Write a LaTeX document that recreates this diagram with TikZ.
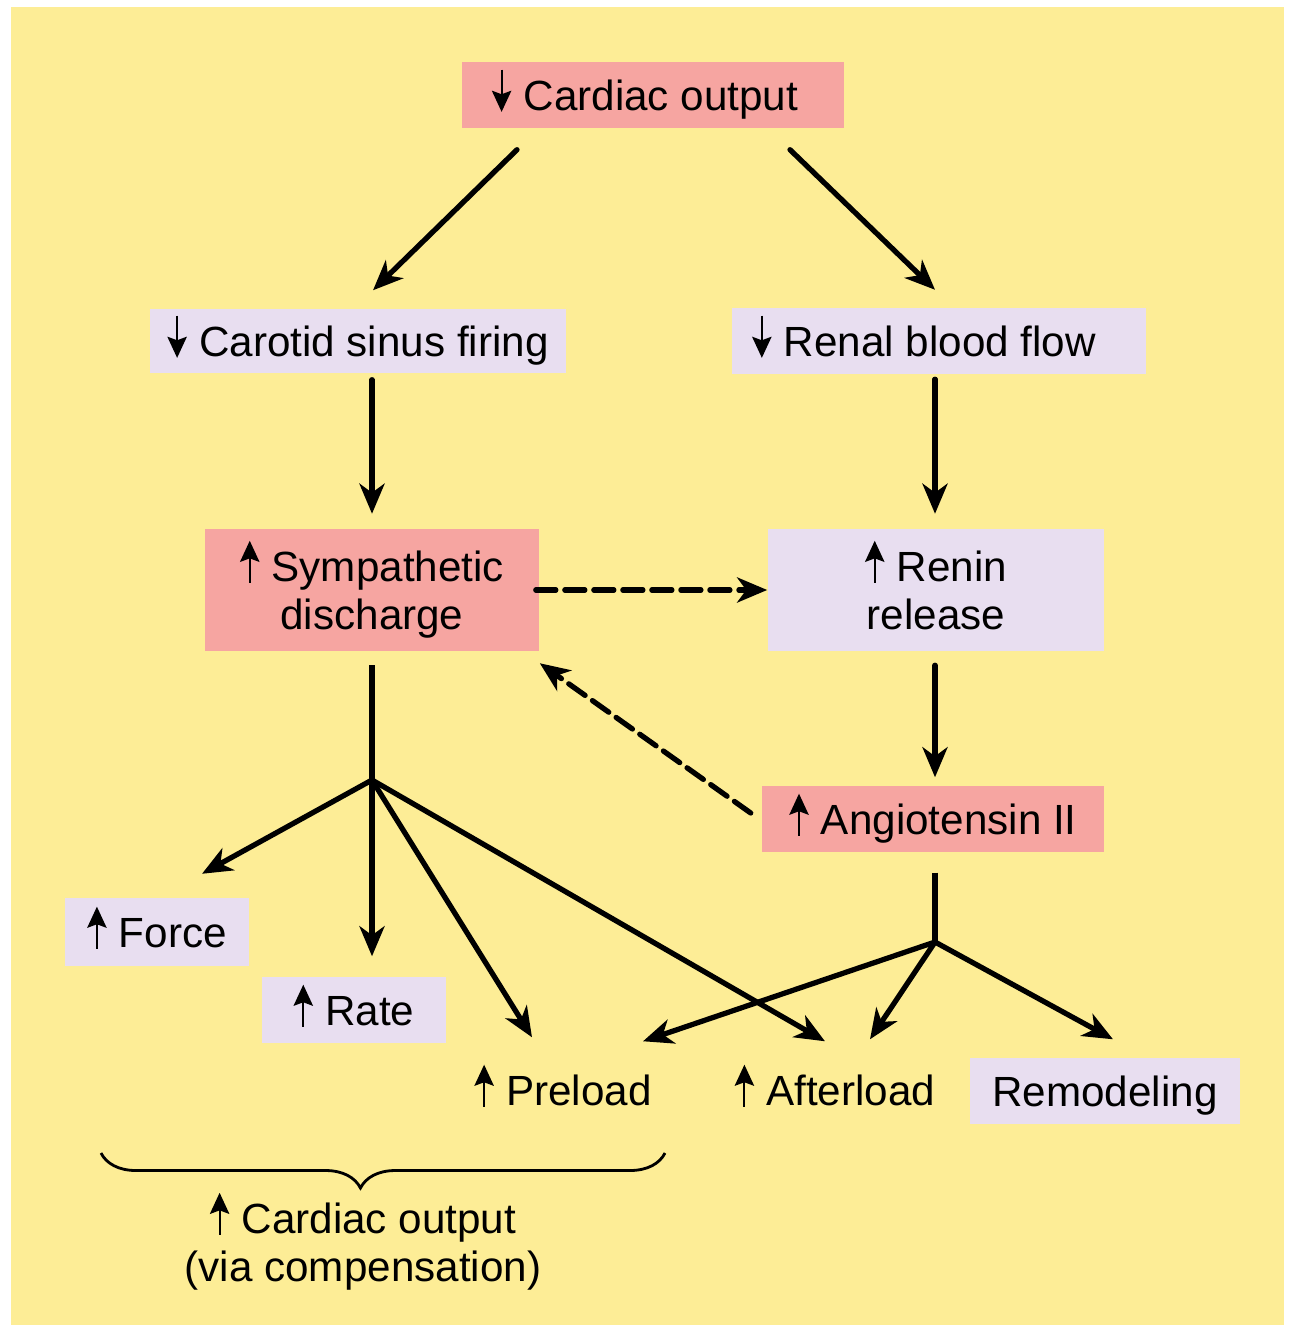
\documentclass[tikz,border=0pt]{standalone}
\usepackage{fontspec}
\setmainfont{Liberation Sans}
\usetikzlibrary{arrows.meta,decorations.pathreplacing}

\definecolor{bgyellow}{RGB}{253,237,150}
\definecolor{boxpink}{RGB}{246,165,161}
\definecolor{boxlilac}{RGB}{232,222,240}

% small up / down arrows in front of the labels
\newcommand{\ua}{\tikz[baseline=0pt]\draw[line width=0.6pt,-{Stealth[length=6pt,width=5.5pt,inset=1pt]}] (0pt,-0.5pt) -- (0pt,11.5pt);\hspace{3.5pt}}
\newcommand{\da}{\tikz[baseline=0pt]\draw[line width=0.6pt,-{Stealth[length=6pt,width=5.5pt,inset=1pt]}] (0pt,11.5pt) -- (0pt,-0.5pt);\hspace{3.5pt}}

\tikzset{
  box/.style={inner sep=0pt, align=center, text height=8.6pt, text depth=0pt,
    font=\fontsize{12}{13.6}\selectfont},
  twoline/.style={text height=22.2pt},
  pinkbox/.style={box, fill=boxpink},
  lilacbox/.style={box, fill=boxlilac},
  link/.style={line width=1.5pt, line cap=round,
    -{Stealth[length=0.3cm,width=0.25cm,inset=0.09cm]}},
  dashlink/.style={link, dash pattern=on 0.2cm off 0.09cm}
}

\begin{document}
\begin{tikzpicture}[x=0.01cm, y=-0.01cm]
  \useasboundingbox (0,0) rectangle (1288,1325);
  \fill[bgyellow] (11,7) rectangle (1284,1325);

  % boxes
  \node[pinkbox, minimum width=3.81cm, minimum height=0.66cm] (co) at (653,95) {\da Cardiac output\hspace{0.16cm}};
  \node[lilacbox, minimum width=4.16cm, minimum height=0.64cm] (carotid) at (358,341) {\da Carotid sinus firing};
  \node[lilacbox, minimum width=4.14cm, minimum height=0.65cm] (renal) at (939,341) {\da Renal blood flow\hspace{0.3cm}};
  \node[pinkbox, twoline, minimum width=3.34cm, minimum height=1.21cm] (symp) at (372,590) {\ua Sympathetic\\discharge};
  \node[lilacbox, twoline, minimum width=3.36cm, minimum height=1.21cm] (renin) at (936,590) {\ua Renin\\release};
  \node[pinkbox, minimum width=3.41cm, minimum height=0.66cm] (ang) at (933,819) {\ua Angiotensin II};
  \node[lilacbox, minimum width=1.83cm, minimum height=0.67cm] (force) at (157,932) {\ua Force};
  \node[lilacbox, minimum width=1.84cm, minimum height=0.66cm] (rate) at (354,1010) {\ua Rate};
  \node[box, minimum height=0.66cm] (preload) at (563,1090) {\ua Preload};
  \node[box, minimum height=0.66cm] (afterload) at (835,1090) {\ua Afterload};
  \node[lilacbox, minimum width=2.70cm, minimum height=0.66cm] (remodel) at (1105,1091) {Remodeling};

  \coordinate (js) at (372,780);
  \coordinate (ja) at (935,942);

  % reflex arrows
  \draw[link] ([shift={(-136,21)}]co.south) -- ([shift={(15,-18)}]carotid.north);
  \draw[link] ([shift={(137,21)}]co.south) -- ([shift={(-4,-18)}]renal.north);
  \draw[link] ([shift={(14,6)}]carotid.south) -- ([shift={(0,-15)}]symp.north);
  \draw[link] ([shift={(-4,5)}]renal.south) -- ([shift={(-1,-15)}]renin.north);
  \draw[link] ([shift={(-1,14)}]renin.south) -- ([shift={(2,-8)}]ang.north);
  \draw[dashlink] ([shift={(-4,0)}]symp.east) -- (renin.west);
  \draw[dashlink] ([shift={(-11,-6)}]ang.west) -- ([shift={(0,12)}]symp.south east);

  % effects
  \draw[line width=1.5pt] ([shift={(0,14)}]symp.south) -- (js);
  \draw[link] (js) -- ([shift={(45,-24)}]force.north);
  \draw[link] (js) -- ([shift={(18,-20)}]rate.north);
  \draw[link] (js) -- ([shift={(-31,-19)}]preload.north);
  \draw[link] (js) -- ([shift={(-10,-15)}]afterload.north);
  \draw[line width=1.5pt] ([shift={(2,20)}]ang.south) -- (ja);
  \draw[link] (ja) -- ([shift={(80,-15)}]preload.north);
  \draw[link] (ja) -- ([shift={(35,-17)}]afterload.north);
  \draw[link] (ja) -- ([shift={(8,-18)}]remodel.north);

  % compensation
  \draw[line width=0.8pt, decorate, decoration={brace, mirror, amplitude=0.35cm, aspect=0.46}] (101,1153) -- (665,1153);
  \node[box, twoline] (gain) at (363,1242) {\ua Cardiac output\\(via compensation)};
\end{tikzpicture}
\end{document}
